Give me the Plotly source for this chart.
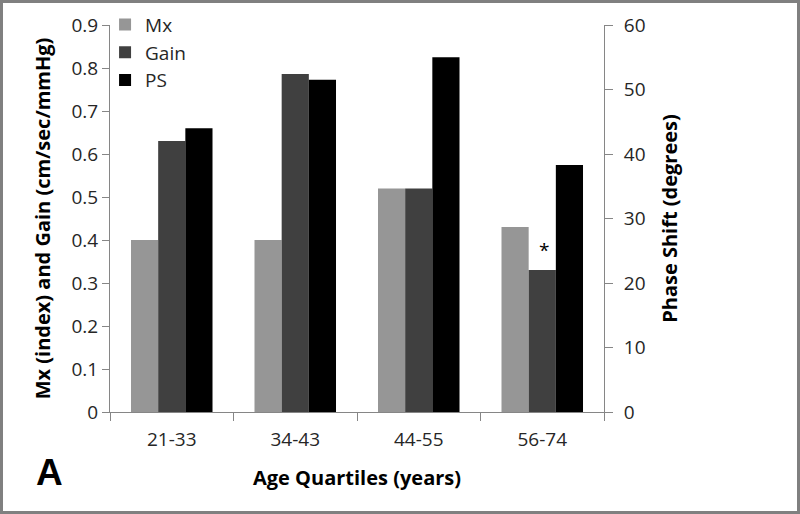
import plotly.graph_objects as go

categories = ["21-33", "34-43", "44-55", "56-74"]
mx_values = [0.40, 0.40, 0.52, 0.43]
gain_values = [0.63, 0.786, 0.52, 0.33]
ps_values = [44.0, 51.5, 55.0, 38.3]

W, H = 800, 514
L, R, T, B = 110, 196, 25, 102
pw = W - L - R
ph = H - T - B

FONT = "Open Sans"
AXIS_COLOR = "#868686"
TICK_FONT = dict(family=FONT, size=19, color="#262626")
TITLE_FONT = dict(family=FONT, size=20, color="#000000", weight="bold")

fig = go.Figure()
fig.add_trace(go.Bar(x=categories, y=mx_values, name="Mx", marker=dict(color="#969696", line=dict(width=0)),
                     width=0.22, offset=-0.33, yaxis="y"))
fig.add_trace(go.Bar(x=categories, y=gain_values, name="Gain", marker=dict(color="#404040", line=dict(width=0)),
                     width=0.22, offset=-0.11, yaxis="y"))
fig.add_trace(go.Bar(x=categories, y=ps_values, name="PS", marker=dict(color="#000000", line=dict(width=0)),
                     width=0.22, offset=0.11, yaxis="y2"))

fig.update_layout(
    width=W, height=H,
    margin=dict(l=L, r=R, t=T, b=B, autoexpand=False),
    paper_bgcolor="white", plot_bgcolor="white",
    barmode="overlay",
    showlegend=True,
    legend=dict(x=-0.01, y=1.05, xanchor="left", yanchor="top", bgcolor="rgba(0,0,0,0)",
                font=dict(family=FONT, size=19, color="#262626"), tracegroupgap=0,
                itemwidth=30),
    xaxis=dict(
        type="category", tickson="boundaries", ticks="outside", ticklen=8, tickcolor=AXIS_COLOR,
        showline=True, linecolor=AXIS_COLOR, linewidth=1, showgrid=False, zeroline=False,
        tickfont=TICK_FONT, automargin=False, ticklabelstandoff=10,
        title=dict(text="Age Quartiles (years)", font=TITLE_FONT, standoff=20),
    ),
    yaxis=dict(
        range=[0, 0.9], dtick=0.1, tick0=0, ticks="outside", ticklen=7, tickcolor=AXIS_COLOR,
        showline=True, linecolor=AXIS_COLOR, linewidth=1, showgrid=False, zeroline=False,
        tickfont=TICK_FONT, automargin=False,
        title=dict(text="Mx (index) and Gain (cm/sec/mmHg)", font=TITLE_FONT, standoff=15),
    ),
    yaxis2=dict(
        range=[0, 60], dtick=10, tick0=0, overlaying="y", side="right",
        ticks="outside", ticklen=8, tickcolor=AXIS_COLOR,
        showline=True, linecolor=AXIS_COLOR, linewidth=1, showgrid=False, zeroline=False,
        tickfont=TICK_FONT, automargin=False, ticklabelstandoff=7,
        title=dict(text="Phase Shift (degrees)", font=TITLE_FONT, standoff=18),
    ),
)

fig.add_annotation(x=categories[3], y=gain_values[3], xref="x", yref="y", text="*",
                   showarrow=False, yanchor="middle", yshift=20, xshift=2,
                   font=dict(family=FONT, size=19, color="#000000"))

fig.add_annotation(x=(49.5 - L) / pw, y=1 - (472 - T) / ph, xref="paper", yref="paper",
                   text="A", showarrow=False, xanchor="center", yanchor="middle",
                   font=dict(family="Liberation Sans", size=37, color="#000000", weight="bold"))

fig.add_shape(type="rect", xref="paper", yref="paper",
              x0=(1.5 - L) / pw, x1=(W - 1.5 - L) / pw,
              y0=1 - (H - 1.5 - T) / ph, y1=1 - (1.5 - T) / ph,
              line=dict(color="#808080", width=3), fillcolor="rgba(0,0,0,0)", layer="above")

fig.write_html("out.html", config={"displayModeBar": False},
               post_script="document.body.style.margin='0';document.body.style.padding='0';")
